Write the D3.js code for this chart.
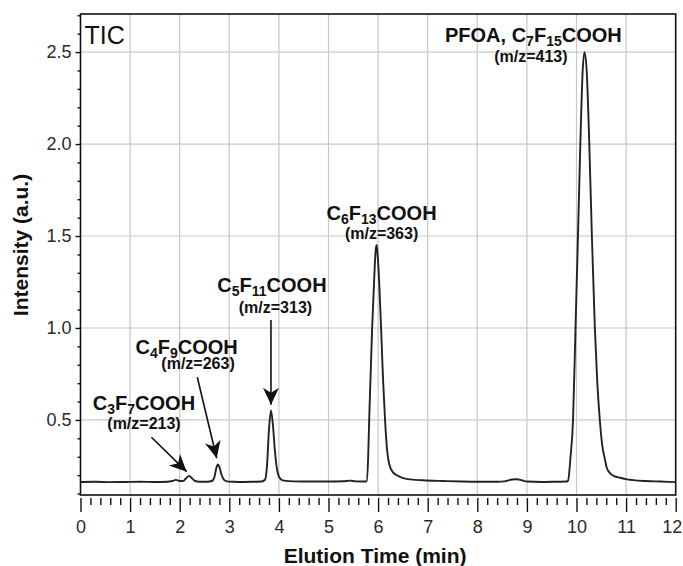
<!DOCTYPE html>
<html>
<head>
<meta charset="utf-8">
<script src="https://cdn.jsdelivr.net/npm/d3@7"></script>
<style>
  html, body { margin: 0; padding: 0; background: #fff; }
  svg { display: block; font-family: "Liberation Sans", Arial, Helvetica, sans-serif; }
</style>
</head>
<body>
<svg id="chart" width="683" height="566"></svg>
<script>
// ---- data ----
const traceTime = [0.0, 0.3, 0.6, 0.9, 1.2, 1.5, 1.75, 1.85, 1.92, 2.0, 2.07, 2.13, 2.19, 2.25, 2.31, 2.4, 2.55, 2.65, 2.7, 2.74, 2.77, 2.8, 2.84, 2.89, 2.95, 3.1, 3.3, 3.5, 3.65, 3.72, 3.76, 3.8, 3.84, 3.88, 3.92, 3.97, 4.03, 4.1, 4.3, 4.6, 5.0, 5.3, 5.43, 5.55, 5.72, 5.77, 5.8, 5.82, 5.85, 5.88, 5.92, 5.95, 5.97, 5.99, 6.02, 6.06, 6.1, 6.14, 6.18, 6.22, 6.3, 6.41, 6.6, 6.9, 7.3, 7.7, 8.0, 8.4, 8.55, 8.7, 8.8, 8.9, 9.0, 9.3, 9.6, 9.8, 9.83, 9.88, 9.93, 9.98, 10.03, 10.077, 10.125, 10.16, 10.205, 10.258, 10.31, 10.37, 10.42, 10.47, 10.52, 10.57, 10.61, 10.68, 10.76, 10.88, 11.0, 11.14, 11.4, 11.7, 12.0];
const traceIntensity = [0.163, 0.164, 0.162, 0.163, 0.164, 0.163, 0.164, 0.168, 0.174, 0.168, 0.168, 0.183, 0.196, 0.182, 0.168, 0.164, 0.164, 0.168, 0.19, 0.24, 0.258, 0.245, 0.205, 0.175, 0.166, 0.164, 0.163, 0.164, 0.165, 0.175, 0.25, 0.45, 0.552, 0.47, 0.33, 0.22, 0.18, 0.17, 0.166, 0.165, 0.165, 0.167, 0.17, 0.166, 0.165, 0.168, 0.3, 0.5, 0.75, 1.0, 1.26, 1.42, 1.451, 1.40, 1.26, 1.0, 0.72, 0.5, 0.34, 0.265, 0.215, 0.195, 0.178, 0.172, 0.168, 0.165, 0.164, 0.164, 0.166, 0.176, 0.178, 0.172, 0.165, 0.163, 0.164, 0.165, 0.17, 0.3, 0.5, 1.0, 1.5, 2.0, 2.40, 2.50, 2.40, 2.0, 1.5, 1.0, 0.7, 0.5, 0.36, 0.29, 0.24, 0.21, 0.195, 0.186, 0.178, 0.173, 0.168, 0.165, 0.162];

const xMajorTicks = [0, 1, 2, 3, 4, 5, 6, 7, 8, 9, 10, 11, 12];
const xMinorTicks = [0.2, 0.4, 0.6, 0.8, 1.2, 1.4, 1.6, 1.8, 2.2, 2.4, 2.6, 2.8, 3.2, 3.4, 3.6, 3.8, 4.2, 4.4, 4.6, 4.8, 5.2, 5.4, 5.6, 5.8, 6.2, 6.4, 6.6, 6.8, 7.2, 7.4, 7.6, 7.8, 8.2, 8.4, 8.6, 8.8, 9.2, 9.4, 9.6, 9.8, 10.2, 10.4, 10.6, 10.8, 11.2, 11.4, 11.6, 11.8];
const yMajorTicks = [0.5, 1.0, 1.5, 2.0, 2.5];
const yMinorTicks = [0.1, 0.2, 0.3, 0.4, 0.6, 0.7, 0.8, 0.9, 1.1, 1.2, 1.3, 1.4, 1.6, 1.7, 1.8, 1.9, 2.1, 2.2, 2.3, 2.4, 2.6, 2.7];

// compound labels: [text, isSubscript] parts, anchored in data units (time, intensity)
const peakNames = [
  [["C", 0], ["3", 1], ["F", 0], ["7", 1], ["COOH", 0]],
  [["C", 0], ["4", 1], ["F", 0], ["9", 1], ["COOH", 0]],
  [["C", 0], ["5", 1], ["F", 0], ["11", 1], ["COOH", 0]],
  [["C", 0], ["6", 1], ["F", 0], ["13", 1], ["COOH", 0]],
  [["PFOA, C", 0], ["7", 1], ["F", 0], ["15", 1], ["COOH", 0]]
];
const nameTime = [1.28, 2.14, 3.86, 6.07, 9.13];
const nameIntensity = [0.554, 0.856, 1.196, 1.587, 2.556];
const mzLabels = ["(m/z=213)", "(m/z=263)", "(m/z=313)", "(m/z=363)", "(m/z=413)"];
const mzTime = [1.28, 2.37, 3.93, 6.07, 9.08];
const mzIntensity = [0.451, 0.777, 1.08, 1.484, 2.447];
// arrows: tail -> tip
const arrowFromTime = [1.43, 2.355, 3.84];
const arrowFromIntensity = [0.406, 0.732, 1.043];
const arrowToTime = [2.14, 2.746, 3.84];
const arrowToIntensity = [0.219, 0.292, 0.582];

// ---- layout ----
const W = 683, H = 566;
const margin = { left: 80.5, top: 14, right: 7.3, bottom: 71 };
const svg = d3.select("#chart");
const x = d3.scaleLinear().domain([0, 12]).range([margin.left, W - margin.right]);
const y = d3.scaleLinear().domain([0.092, 2.707]).range([H - margin.bottom, margin.top]);
const x0 = margin.left, x1 = W - margin.right, y0 = H - margin.bottom, y1 = margin.top;

// grid
const grid = svg.append("g").attr("stroke", "#c8c8c8").attr("stroke-width", 1.2);
grid.selectAll(".gx").data(xMajorTicks.slice(1, -1)).join("line")
  .attr("x1", d => x(d)).attr("x2", d => x(d)).attr("y1", y1).attr("y2", y0);
grid.selectAll(".gy").data(yMajorTicks).join("line")
  .attr("y1", d => y(d)).attr("y2", d => y(d)).attr("x1", x0).attr("x2", x1);

// x axis (offset below frame)
const xAxisY = y0 + 3;
const gxMinor = svg.append("g").attr("transform", `translate(0,${xAxisY})`)
  .call(d3.axisBottom(x).tickValues(xMinorTicks).tickSize(7).tickFormat(""));
const gxMajor = svg.append("g").attr("transform", `translate(0,${xAxisY})`)
  .call(d3.axisBottom(x).tickValues(xMajorTicks).tickSize(14).tickPadding(8).tickFormat(d3.format("d")));
[gxMinor, gxMajor].forEach(g => {
  g.select(".domain").remove();
  g.selectAll(".tick line").attr("stroke", "#111").attr("stroke-width", 1.4);
});
gxMajor.selectAll("text").attr("font-size", 18).attr("fill", "#2a2a2a")
  .attr("font-family", "'Liberation Sans', Arial, sans-serif");
// keep the last label inside the picture, as in the reference
gxMajor.selectAll(".tick").filter(d => d === 12).select("text").attr("dx", -4);

// y axis
const gyMinor = svg.append("g").attr("transform", `translate(${x0},0)`)
  .call(d3.axisLeft(y).tickValues(yMinorTicks).tickSize(3).tickFormat(""));
const gyMajor = svg.append("g").attr("transform", `translate(${x0},0)`)
  .call(d3.axisLeft(y).tickValues(yMajorTicks).tickSize(5).tickPadding(4).tickFormat(d3.format(".1f")));
[gyMinor, gyMajor].forEach(g => {
  g.select(".domain").remove();
  g.selectAll(".tick line").attr("stroke", "#111").attr("stroke-width", 1.4);
});
gyMajor.selectAll("text").attr("font-size", 18).attr("fill", "#2a2a2a")
  .attr("font-family", "'Liberation Sans', Arial, sans-serif");

// frame
svg.append("rect").attr("x", x0).attr("y", y1).attr("width", x1 - x0).attr("height", y0 - y1)
  .attr("fill", "none").attr("stroke", "#111").attr("stroke-width", 1.6);

// trace
const pts = traceTime.map((t, i) => [t, traceIntensity[i]]);
svg.append("path").datum(pts)
  .attr("fill", "none").attr("stroke", "#222").attr("stroke-width", 1.9).attr("stroke-linejoin", "round")
  .attr("d", d3.line().x(d => x(d[0])).y(d => y(d[1])).curve(d3.curveMonotoneX));

// TIC
svg.append("text").attr("x", x0 + 4).attr("y", y1 + 30).attr("font-size", 25).attr("fill", "#111").text("TIC");

// arrow marker
const defs = svg.append("defs");
defs.append("marker").attr("id", "ah").attr("markerUnits", "userSpaceOnUse")
  .attr("viewBox", "-18 -9 19 18").attr("refX", 0).attr("refY", 0)
  .attr("markerWidth", 19).attr("markerHeight", 18).attr("orient", "auto")
  .append("path").attr("d", "M0,0 L-17,-8 L-12,0 L-17,8 Z").attr("fill", "#111");

svg.append("g").selectAll("line").data(arrowFromTime).join("line")
  .attr("x1", (d, i) => x(d)).attr("y1", (d, i) => y(arrowFromIntensity[i]))
  .attr("x2", (d, i) => x(arrowToTime[i])).attr("y2", (d, i) => y(arrowToIntensity[i]))
  .attr("stroke", "#111").attr("stroke-width", 1.6).attr("marker-end", "url(#ah)");

// compound names
const names = svg.append("g").attr("font-weight", "bold").attr("fill", "#111").attr("text-anchor", "middle");
peakNames.forEach((parts, i) => {
  const t = names.append("text").attr("x", x(nameTime[i])).attr("y", y(nameIntensity[i])).attr("font-size", 20);
  parts.forEach(([s, sub], j) => {
    const prevSub = j > 0 ? parts[j - 1][1] : 0;
    let dy = 0;
    if (sub && !prevSub) dy = 4;
    if (!sub && prevSub) dy = -4;
    t.append("tspan").attr("font-size", sub ? 14 : 20).attr("dy", dy).text(s);
  });
});
names.selectAll(".mz").data(mzLabels).join("text")
  .attr("x", (d, i) => x(mzTime[i])).attr("y", (d, i) => y(mzIntensity[i]))
  .attr("font-size", 16).text(d => d);

// axis titles
svg.append("text").attr("x", (x0 + x1) / 2 - 3).attr("y", 563).attr("text-anchor", "middle")
  .attr("font-size", 21).attr("font-weight", "bold").attr("fill", "#111").text("Elution Time (min)");
svg.append("text").attr("transform", `translate(28,245) rotate(-90)`).attr("text-anchor", "middle")
  .attr("font-size", 21).attr("font-weight", "bold").attr("fill", "#111").text("Intensity (a.u.)");
</script>
</body>
</html>
